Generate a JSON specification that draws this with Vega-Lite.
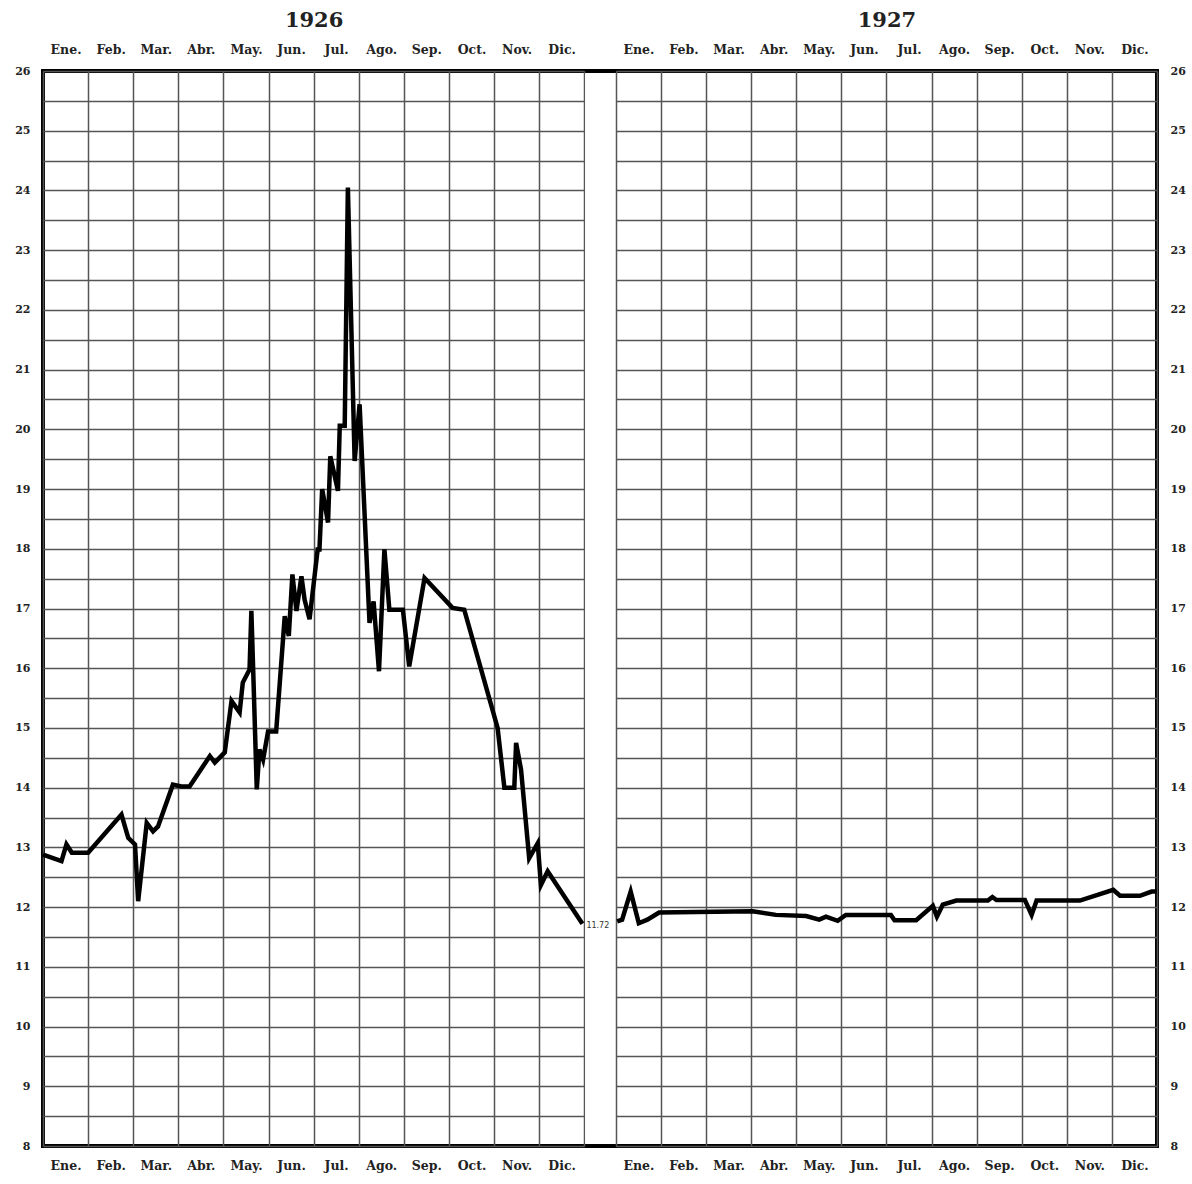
{
  "$schema": "https://vega.github.io/schema/vega-lite/v6.json",
  "width": 1114,
  "height": 1075,
  "autosize": {"type": "none"},
  "padding": {"left": 43, "top": 71, "right": 35, "bottom": 38},
  "background": "white",
  "config": {
    "view": {"stroke": "black", "strokeWidth": 4},
    "axis": {
      "ticks": false,
      "domain": false,
      "labelFont": "DejaVu Serif",
      "labelFontWeight": "bold",
      "labelColor": "#222",
      "labelOverlap": false,
      "labelFlush": false,
      "labelBound": false,
      "gridColor": "#555",
      "gridWidth": 1.5,
      "titleFont": "DejaVu Serif",
      "titleFontWeight": "bold",
      "titleColor": "#222",
      "titleFontSize": 21
    }
  },
  "datasets": {
    "y1926": [
      {"mes": 0.00, "valor": 12.88}, {"mes": 0.41, "valor": 12.77}, {"mes": 0.52, "valor": 13.05},
      {"mes": 0.64, "valor": 12.91}, {"mes": 1.00, "valor": 12.91}, {"mes": 1.74, "valor": 13.55},
      {"mes": 1.89, "valor": 13.16}, {"mes": 2.04, "valor": 13.05}, {"mes": 2.11, "valor": 12.10},
      {"mes": 2.30, "valor": 13.41}, {"mes": 2.44, "valor": 13.27}, {"mes": 2.55, "valor": 13.35},
      {"mes": 2.88, "valor": 14.05}, {"mes": 3.07, "valor": 14.02}, {"mes": 3.25, "valor": 14.02},
      {"mes": 3.70, "valor": 14.53}, {"mes": 3.81, "valor": 14.42}, {"mes": 4.03, "valor": 14.59},
      {"mes": 4.18, "valor": 15.45}, {"mes": 4.36, "valor": 15.26}, {"mes": 4.43, "valor": 15.76},
      {"mes": 4.58, "valor": 15.98}, {"mes": 4.62, "valor": 16.96}, {"mes": 4.66, "valor": 15.98},
      {"mes": 4.74, "valor": 13.97}, {"mes": 4.80, "valor": 14.64}, {"mes": 4.88, "valor": 14.47},
      {"mes": 4.99, "valor": 14.94}, {"mes": 5.17, "valor": 14.94}, {"mes": 5.36, "valor": 16.87},
      {"mes": 5.45, "valor": 16.54}, {"mes": 5.53, "valor": 17.57}, {"mes": 5.62, "valor": 16.96},
      {"mes": 5.73, "valor": 17.54}, {"mes": 5.80, "valor": 17.15}, {"mes": 5.91, "valor": 16.82},
      {"mes": 6.09, "valor": 17.99}, {"mes": 6.13, "valor": 17.99}, {"mes": 6.19, "valor": 19.00},
      {"mes": 6.32, "valor": 18.44}, {"mes": 6.37, "valor": 19.55}, {"mes": 6.54, "valor": 18.97},
      {"mes": 6.58, "valor": 20.06}, {"mes": 6.69, "valor": 20.06}, {"mes": 6.76, "valor": 24.05},
      {"mes": 6.91, "valor": 19.47}, {"mes": 7.02, "valor": 20.42}, {"mes": 7.24, "valor": 16.76},
      {"mes": 7.33, "valor": 17.12}, {"mes": 7.45, "valor": 15.95}, {"mes": 7.57, "valor": 17.99},
      {"mes": 7.68, "valor": 16.98}, {"mes": 7.98, "valor": 16.98}, {"mes": 8.12, "valor": 16.03},
      {"mes": 8.46, "valor": 17.51}, {"mes": 9.08, "valor": 17.01}, {"mes": 9.34, "valor": 16.98},
      {"mes": 10.08, "valor": 15.00}, {"mes": 10.23, "valor": 14.00}, {"mes": 10.45, "valor": 14.00},
      {"mes": 10.49, "valor": 14.75}, {"mes": 10.60, "valor": 14.30}, {"mes": 10.78, "valor": 12.82},
      {"mes": 10.97, "valor": 13.07}, {"mes": 11.04, "valor": 12.37}, {"mes": 11.19, "valor": 12.60},
      {"mes": 11.96, "valor": 11.72}
    ],
    "y1927": [
      {"mes": 0.03, "valor": 11.76}, {"mes": 0.14, "valor": 11.79}, {"mes": 0.33, "valor": 12.26},
      {"mes": 0.51, "valor": 11.73}, {"mes": 0.70, "valor": 11.79}, {"mes": 0.96, "valor": 11.91},
      {"mes": 3.03, "valor": 11.93}, {"mes": 3.55, "valor": 11.87}, {"mes": 4.22, "valor": 11.85},
      {"mes": 4.51, "valor": 11.79}, {"mes": 4.66, "valor": 11.84}, {"mes": 4.92, "valor": 11.77},
      {"mes": 5.10, "valor": 11.87}, {"mes": 6.10, "valor": 11.87}, {"mes": 6.18, "valor": 11.78},
      {"mes": 6.66, "valor": 11.78}, {"mes": 7.03, "valor": 12.02}, {"mes": 7.12, "valor": 11.84},
      {"mes": 7.25, "valor": 12.04}, {"mes": 7.55, "valor": 12.11}, {"mes": 8.25, "valor": 12.11},
      {"mes": 8.35, "valor": 12.17}, {"mes": 8.44, "valor": 12.12}, {"mes": 9.07, "valor": 12.12},
      {"mes": 9.22, "valor": 11.87}, {"mes": 9.33, "valor": 12.11}, {"mes": 10.29, "valor": 12.11},
      {"mes": 11.03, "valor": 12.29}, {"mes": 11.18, "valor": 12.19}, {"mes": 11.62, "valor": 12.19},
      {"mes": 11.88, "valor": 12.26}, {"mes": 11.99, "valor": 12.26}
    ],
    "etiqueta": [{"mes": 11.96, "valor": 11.72, "texto": "11.72"}]
  },
  "resolve": {
    "scale": {"x": "independent"},
    "axis": {"x": "independent", "y": "independent"}
  },
  "layer": [
    {
      "data": {"name": "etiqueta"},
      "mark": {"type": "rect", "fill": "white"},
      "encoding": {
        "x": {
          "datum": -0.68, "type": "quantitative",
          "scale": {"domain": [0, 12], "range": [572.8, 1114], "nice": false, "zero": false},
          "axis": {
            "orient": "top", "title": "1927", "titlePadding": 13,
            "values": [0.5, 1.5, 2.5, 3.5, 4.5, 5.5, 6.5, 7.5, 8.5, 9.5, 10.5, 11.5],
            "labelExpr": "['Ene.','Feb.','Mar.','Abr.','May.','Jun.','Jul.','Ago.','Sep.','Oct.','Nov.','Dic.'][floor(datum.value)]",
            "labelFontSize": 12.5, "labelPadding": 15, "grid": false
          }
        },
        "x2": {"datum": -0.02},
        "y": {
          "datum": 8.04, "type": "quantitative",
          "scale": {"domain": [8, 26], "nice": false, "zero": false},
          "axis": {
            "orient": "right", "title": null,
            "values": [8, 9, 10, 11, 12, 13, 14, 15, 16, 17, 18, 19, 20, 21, 22, 23, 24, 25, 26],
            "format": "d",
            "labelFontSize": 11, "labelPadding": 13, "grid": false
          }
        },
        "y2": {"datum": 25.96}
      }
    },
    {
      "data": {"name": "y1926"},
      "mark": {"type": "line", "color": "black", "strokeWidth": 4.5},
      "encoding": {
        "x": {
          "field": "mes", "type": "quantitative",
          "scale": {"domain": [0, 12], "range": [0, 541.2], "nice": false, "zero": false},
          "axis": {
            "orient": "bottom", "title": null,
            "values": [0, 0.5, 1, 1.5, 2, 2.5, 3, 3.5, 4, 4.5, 5, 5.5, 6, 6.5, 7, 7.5, 8, 8.5, 9, 9.5, 10, 10.5, 11, 11.5, 12],
            "labelExpr": "datum.value % 1 === 0 ? '' : ['Ene.','Feb.','Mar.','Abr.','May.','Jun.','Jul.','Ago.','Sep.','Oct.','Nov.','Dic.'][floor(datum.value)]",
            "labelFontSize": 12.5, "labelPadding": 13, "grid": true,
            "gridOpacity": {"condition": {"test": "datum.value % 1 === 0", "value": 1}, "value": 0}
          }
        },
        "y": {
          "field": "valor", "type": "quantitative",
          "scale": {"domain": [8, 26], "nice": false, "zero": false},
          "axis": {
            "orient": "left", "title": null,
            "values": [8, 8.5, 9, 9.5, 10, 10.5, 11, 11.5, 12, 12.5, 13, 13.5, 14, 14.5, 15, 15.5, 16, 16.5, 17, 17.5, 18, 18.5, 19, 19.5, 20, 20.5, 21, 21.5, 22, 22.5, 23, 23.5, 24, 24.5, 25, 25.5, 26],
            "labelExpr": "datum.value % 1 === 0 ? format(datum.value, 'd') : ''",
            "labelFontSize": 11, "labelPadding": 13, "grid": true
          }
        }
      }
    },
    {
      "data": {"name": "etiqueta"},
      "mark": {"type": "text", "align": "left", "baseline": "middle", "dx": 4, "dy": 2, "fontSize": 8, "font": "DejaVu Sans", "color": "#333"},
      "encoding": {
        "x": {
          "field": "mes", "type": "quantitative",
          "scale": {"domain": [0, 12], "range": [0, 541.2], "nice": false, "zero": false},
          "axis": {
            "orient": "top", "title": "1926", "titlePadding": 13,
            "values": [0.5, 1.5, 2.5, 3.5, 4.5, 5.5, 6.5, 7.5, 8.5, 9.5, 10.5, 11.5],
            "labelExpr": "['Ene.','Feb.','Mar.','Abr.','May.','Jun.','Jul.','Ago.','Sep.','Oct.','Nov.','Dic.'][floor(datum.value)]",
            "labelFontSize": 12.5, "labelPadding": 15, "grid": false
          }
        },
        "y": {"field": "valor", "type": "quantitative", "scale": {"domain": [8, 26], "nice": false, "zero": false}, "axis": null},
        "text": {"field": "texto"}
      }
    },
    {
      "data": {"name": "y1927"},
      "mark": {"type": "line", "color": "black", "strokeWidth": 4.5},
      "encoding": {
        "x": {
          "field": "mes", "type": "quantitative",
          "scale": {"domain": [0, 12], "range": [572.8, 1114], "nice": false, "zero": false},
          "axis": {
            "orient": "bottom", "title": null,
            "values": [0, 0.5, 1, 1.5, 2, 2.5, 3, 3.5, 4, 4.5, 5, 5.5, 6, 6.5, 7, 7.5, 8, 8.5, 9, 9.5, 10, 10.5, 11, 11.5, 12],
            "labelExpr": "datum.value % 1 === 0 ? '' : ['Ene.','Feb.','Mar.','Abr.','May.','Jun.','Jul.','Ago.','Sep.','Oct.','Nov.','Dic.'][floor(datum.value)]",
            "labelFontSize": 12.5, "labelPadding": 13, "grid": true,
            "gridOpacity": {"condition": {"test": "datum.value % 1 === 0", "value": 1}, "value": 0}
          }
        },
        "y": {
          "field": "valor", "type": "quantitative",
          "scale": {"domain": [8, 26], "nice": false, "zero": false},
          "axis": {
            "orient": "left", "title": null, "labels": false,
            "values": [8, 8.5, 9, 9.5, 10, 10.5, 11, 11.5, 12, 12.5, 13, 13.5, 14, 14.5, 15, 15.5, 16, 16.5, 17, 17.5, 18, 18.5, 19, 19.5, 20, 20.5, 21, 21.5, 22, 22.5, 23, 23.5, 24, 24.5, 25, 25.5, 26],
            "grid": true
          }
        }
      }
    }
  ]
}
